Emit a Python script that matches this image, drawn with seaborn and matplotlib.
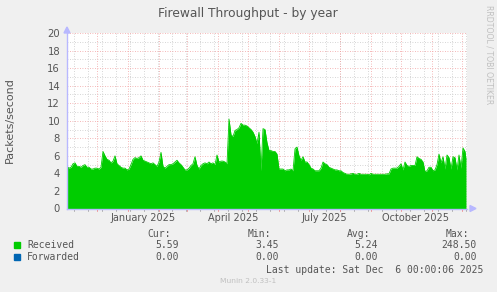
import numpy as np
import pandas as pd
import matplotlib
matplotlib.use("Agg")
import matplotlib.pyplot as plt
import matplotlib.dates as mdates
import seaborn as sns

# ---------------- data ----------------
start_date = "2024-11-01"
day_offsets = list(range(0, 400, 2)) + [399]
received = [
    4.8, 4.6, 4.7, 5.1, 5.2, 4.8, 4.8, 4.7, 4.9, 5.0,
    4.7, 4.7, 4.5, 4.5, 4.6, 4.6, 4.5, 4.7, 6.5, 6.0,
    5.6, 5.5, 5.2, 5.4, 6.0, 5.1, 4.9, 4.7, 4.6, 4.6,
    4.4, 4.5, 5.0, 5.6, 5.8, 5.7, 5.8, 6.0, 5.5, 5.4,
    5.3, 5.2, 5.1, 5.2, 5.0, 4.8, 5.3, 6.4, 4.8, 4.6,
    4.8, 5.0, 5.0, 5.1, 5.3, 5.5, 5.2, 5.0, 4.7, 4.4,
    4.4, 4.6, 4.9, 5.1, 5.9, 4.9, 4.5, 4.9, 5.1, 5.2,
    5.1, 5.3, 5.1, 5.2, 5.0, 6.1, 5.3, 5.4, 5.4, 5.3,
    5.1, 10.2, 8.4, 8.2, 8.9, 9.0, 9.2, 9.7, 9.5, 9.5,
    9.4, 9.2, 9.0, 8.7, 8.2, 7.4, 8.7, 4.3, 9.1, 9.0,
    7.5, 6.6, 6.6, 6.5, 6.5, 6.2, 4.5, 4.5, 4.5, 4.3,
    4.4, 4.4, 4.5, 4.3, 6.8, 7.0, 6.0, 5.5, 5.9, 5.3,
    5.3, 5.0, 4.6, 4.5, 4.3, 4.3, 4.3, 4.6, 5.3, 5.1,
    5.0, 4.7, 4.6, 4.5, 4.4, 4.4, 4.3, 4.3, 4.1, 4.0,
    3.9, 3.9, 3.95, 4.0, 3.9, 3.9, 4.0, 3.9, 3.9, 3.9,
    3.9, 3.85, 4.0, 3.9, 3.9, 3.9, 3.9, 3.9, 3.9, 3.9,
    3.95, 3.95, 4.5, 4.6, 4.6, 4.6, 4.8, 5.1, 4.4, 5.3,
    4.9, 4.8, 4.9, 4.9, 4.9, 5.9, 5.7, 5.6, 5.3, 4.2,
    4.3, 4.7, 4.7, 4.3, 4.4, 5.0, 6.2, 5.2, 5.9, 4.5,
    6.1, 5.8, 4.5, 5.9, 5.8, 4.4, 6.1, 4.6, 6.9, 6.5,
    5.6,
]
forwarded = [0.0] * len(received)

y_ticks = [0, 2, 4, 6, 8, 10, 12, 14, 16, 18, 20]
x_labels = ["January 2025", "April 2025", "July 2025", "October 2025"]
x_label_dates = ["2025-01-16", "2025-04-16", "2025-07-16", "2025-10-16"]

legend_names = ["Received", "Forwarded"]
legend_colors = ["#00CC00", "#0066B3"]
stat_headers = ["Cur:", "Min:", "Avg:", "Max:"]
stats_received = ["5.59", "3.45", "5.24", "248.50"]
stats_forwarded = ["0.00", "0.00", "0.00", "0.00"]
last_update = "Last update: Sat Dec  6 00:00:06 2025"

# ---------------- figure ----------------
W, H = 497, 292
sns.set_style("white")
plt.rcParams["font.family"] = ["DejaVu Sans"]

fig = plt.figure(figsize=(W / 100, H / 100), dpi=100)
fig.patch.set_facecolor("#F0F0F0")

def fx(x):
    return x / W

def fy(y):
    return 1 - y / H

L, R, T, B = 67, 467, 33, 208.5
ax = fig.add_axes([fx(L), fy(B), (R - L) / W, (B - T) / H])
ax.set_facecolor("white")

t0 = pd.Timestamp(start_date)
dates = [t0 + pd.Timedelta(days=d) for d in day_offsets]
df = pd.DataFrame({"date": dates, "Received": received, "Forwarded": forwarded})

xmin = mdates.date2num(t0)
xmax = mdates.date2num(t0 + pd.Timedelta(days=400))
ax.set_xlim(xmin, xmax)
ax.set_ylim(0, 20)

# grid
major_col = "#F2A0A0"
minor_col = "#C8C8C8"
for v in range(1, 20, 2):
    ax.axhline(v, color=minor_col, lw=0.6, ls=(0, (1, 2)), zorder=0)
for v in y_ticks[1:]:
    ax.axhline(v, color=major_col, lw=0.6, ls=(0, (1, 2)), zorder=0.5)

months = pd.date_range("2024-12-01", "2025-12-01", freq="MS")
minors = pd.date_range("2024-11-08", "2025-12-05", freq="14D")
for m in minors:
    ax.axvline(mdates.date2num(m), color=minor_col, lw=0.6, ls=(0, (1, 2)), zorder=0)
for m in months:
    ax.axvline(mdates.date2num(m), color=major_col, lw=0.6, ls=(0, (1, 2)), zorder=0.5)

# data
xnum = mdates.date2num(df["date"])
sns.lineplot(x=xnum, y=df["Forwarded"], ax=ax, color=legend_colors[1], lw=0.8, zorder=1)
ax.fill_between(xnum, 0, df["Received"], color=legend_colors[0], lw=0, zorder=2)
sns.lineplot(x=xnum, y=df["Received"], ax=ax, color=legend_colors[0], lw=0.6, zorder=3)

# axes styling
for s in ["top", "right"]:
    ax.spines[s].set_visible(False)
axis_col = "#B8B8FF"
ax.spines["left"].set_color(axis_col)
ax.spines["bottom"].set_color(axis_col)
ax.spines["left"].set_linewidth(1)
ax.spines["bottom"].set_linewidth(1)
ax.spines["left"].set_zorder(5)
ax.spines["bottom"].set_zorder(5)

ax.set_yticks(y_ticks)
ax.set_yticklabels([str(v) for v in y_ticks], fontsize=7.2, color="#555555")
ax.tick_params(axis="y", length=2, width=0.6, color=axis_col, pad=3)
ax.set_xticks([mdates.date2num(pd.Timestamp(d)) for d in x_label_dates])
ax.set_xticklabels(x_labels, fontsize=7, color="#555555")
ax.tick_params(axis="x", length=0, pad=3)
ax.set_xlabel("")
ax.set_ylabel("")

# tick marks below the x axis
for m in minors:
    ax.plot([mdates.date2num(m)] * 2, [0, -0.25], color="#A0A0A0", lw=0.6, clip_on=False, zorder=4)
for m in months:
    ax.plot([mdates.date2num(m)] * 2, [0, -0.3], color="#F08080", lw=0.6, clip_on=False, zorder=4)

# axis arrows
fig.patches.append(plt.Polygon([[fx(470), fy(205.5)], [fx(470), fy(211.5)], [fx(476), fy(208.5)]],
                               closed=True, transform=fig.transFigure, color=axis_col, zorder=6))
fig.patches.append(plt.Polygon([[fx(64), fy(33)], [fx(70), fy(33)], [fx(67), fy(27)]],
                               closed=True, transform=fig.transFigure, color=axis_col, zorder=6))

# texts
fig.text(fx(248), fy(13), "Firewall Throughput - by year", ha="center", va="center",
         fontsize=8.8, color="#555555")
fig.text(fx(10), fy(120), "Packets/second", ha="center", va="center", rotation=90,
         fontsize=8, color="#555555")
fig.text(fx(489), fy(5), "RRDTOOL / TOBI OETIKER", ha="center", va="top", rotation=-90,
         fontsize=5.6, color="#C0C0C0")

mono = "DejaVu Sans Mono"
hdr_x = [171, 271, 370, 469]
val_x = [179, 279, 378, 477]
for hx, h in zip(hdr_x, stat_headers):
    fig.text(fx(hx), fy(234), h, ha="right", va="center", family=mono, fontsize=7, color="#555555")
rows_y = [245, 257]
for ry, name, col, vals in zip(rows_y, legend_names, legend_colors, [stats_received, stats_forwarded]):
    fig.patches.append(plt.Rectangle((fx(14), fy(ry + 3)), 6 / W, 6 / H, transform=fig.transFigure,
                                     color=col, zorder=5))
    fig.text(fx(27), fy(ry), name, ha="left", va="center", family=mono, fontsize=7, color="#555555")
    for vx, v in zip(val_x, vals):
        fig.text(fx(vx), fy(ry), v, ha="right", va="center", family=mono, fontsize=7, color="#555555")
fig.text(fx(483), fy(270), last_update, ha="right", va="center", family=mono, fontsize=7, color="#555555")
fig.text(fx(248), fy(281), "Munin 2.0.33-1", ha="center", va="center", fontsize=5.4, color="#C0C0C0")

fig.savefig("out.png", dpi=100, facecolor=fig.get_facecolor())
